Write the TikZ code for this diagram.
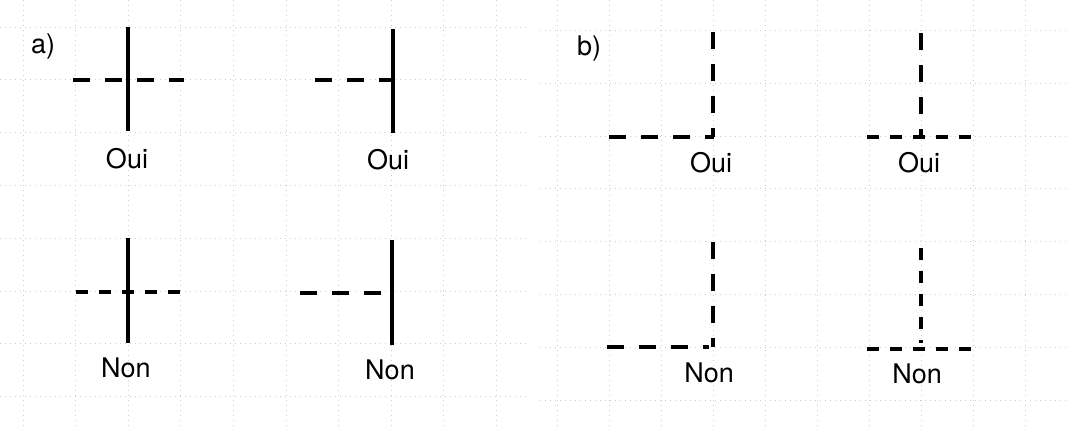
\documentclass[tikz,border=0pt]{standalone}
\usepackage{fontspec}
\setmainfont{TeX Gyre Heros}
\tikzset{
  grille/.style={gray!40, dotted, line width=0.5pt},
  trait/.style={line width=2pt},
  tiret/.style={line width=1.7pt, dash pattern=on 8.5pt off 7.5pt},
  tiretfin/.style={line width=1.7pt, dash pattern=on 6pt off 5.5pt},
  etiq/.style={font=\fontsize{13.5}{16}\selectfont, inner sep=0pt}
}
\begin{document}
\begin{tikzpicture}[x=0.5pt, y=-0.5pt]
	\useasboundingbox (0,0) rectangle (1068,430);
	% grille
	\foreach \i in {0,...,9} \draw[grille] (23+52.6*\i,0) -- (23+52.6*\i,430);
	\foreach \j in {0,...,7} \draw[grille] (0,27+52.8*\j) -- (530,27+52.8*\j);
	\foreach \i in {0,...,9} \draw[grille] (557+52*\i,0) -- (557+52*\i,430);
	\foreach \j in {0,...,7} \draw[grille] (540,30.5+52.8*\j) -- (1068,30.5+52.8*\j);
	% a)
	\node[etiq] (pa) at (43,47) {a)};
	\draw[tiret] (73,80) -- (184,80);
	\draw[trait] (128,27) -- (128,131);
	\node[etiq] (oui1) at (127,159) {Oui};
	\draw[tiret] (315,80) -- (393,80);
	\draw[trait] (393,29) -- (393,133);
	\node[etiq] (oui2) at (388,160) {Oui};
	\draw[tiretfin] (76,292) -- (181,292);
	\draw[trait] (128,238) -- (128,343);
	\node[etiq] (non1) at (126,368) {Non};
	\draw[tiret] (300,293) -- (392,293);
	\draw[trait] (392,240) -- (392,345);
	\node[etiq] (non2) at (390,370) {Non};
	% b)
	\node[etiq] (pb) at (589,49) {b)};
	\draw[tiret] (713,32) -- (713,137);
	\draw[tiret] (609,137) -- (714,137);
	\node[etiq] (oui3) at (711,163) {Oui};
	\draw[tiret] (921,33) -- (921,137);
	\draw[tiretfin] (867,137) -- (972,137);
	\node[etiq] (oui4) at (919,163) {Oui};
	\draw[tiret] (713,242) -- (713,347);
	\draw[tiret] (607,347) -- (709,347);
	\node[etiq] (non3) at (709,373) {Non};
	\draw[tiretfin] (921,248) -- (921,343);
	\draw[tiretfin] (867,349) -- (971,349);
	\node[etiq] (non4) at (917,374) {Non};
\end{tikzpicture}
\end{document}
